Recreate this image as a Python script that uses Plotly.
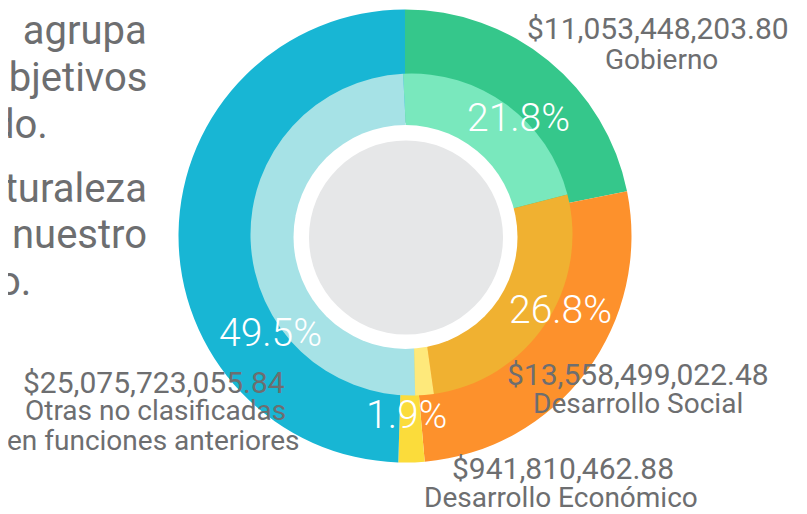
import plotly.graph_objects as go

# target screen size and the page's default body margin
SCREEN_W, SCREEN_H = 807, 514
OFF = 8
W, H = SCREEN_W - OFF, SCREEN_H - OFF

categories = ["Gobierno", "Desarrollo Social", "Desarrollo Económico",
              "Otras no clasificadas<br>en funciones anteriores"]
name_lines = [["Gobierno"], ["Desarrollo Social"], ["Desarrollo Económico"],
              ["Otras no clasificadas", "en funciones anteriores"]]
amounts = [11053448203.80, 13558499022.48, 941810462.88, 25075723055.84]

outer_colors = ["#35C78B", "#FD912C", "#FBDC3B", "#18B6D4"]
inner_colors = ["#79E8BD", "#F0B131", "#FEE97B", "#A6E2E6"]

body_lines = ["o\u00a0\u00a0agrupa", "objetivos", "do.", "aturaleza", "nuestro", "o."]

total = sum(amounts)
pct_labels = [f"{v / total * 100:.1f}%" for v in amounts]
amount_labels = [f"${v:,.2f}" for v in amounts]

FONT = "Roboto"
GREY = "#6D6E70"


def px(x):
    return (x - OFF) / W


def py(y):
    return 1 - (y - OFF) / H


def dom(cx, cy, r):
    return dict(x=[px(cx - r), px(cx + r)], y=[py(cy + r), py(cy - r)])


fig = go.Figure()
fig.add_trace(go.Pie(values=amounts, labels=categories, sort=False, direction="clockwise",
                     rotation=0, hole=0.5, domain=dom(405, 236, 226.5),
                     marker=dict(colors=outer_colors, line=dict(width=0)),
                     textinfo="none", hoverinfo="skip", showlegend=False))
fig.add_trace(go.Pie(values=amounts, labels=categories, sort=False, direction="clockwise",
                     rotation=-3, hole=0, domain=dom(411.5, 234.5, 161),
                     marker=dict(colors=inner_colors, line=dict(width=0)),
                     textinfo="none", hoverinfo="skip", showlegend=False))
fig.add_trace(go.Pie(values=[1], labels=["hole"], sort=False, domain=dom(405.5, 237, 112),
                     marker=dict(colors=["#FFFFFF"], line=dict(width=0)),
                     textinfo="none", hoverinfo="skip", showlegend=False))
fig.add_trace(go.Pie(values=[1], labels=["center"], sort=False, domain=dom(406, 237.5, 97),
                     marker=dict(colors=["#E6E7E8"], line=dict(width=0)),
                     textinfo="none", hoverinfo="skip", showlegend=False))

annotations = []


def add(text, x, y, size, color, xanchor="center", weight=400):
    annotations.append(dict(text=text, x=px(x), y=py(y), xref="paper", yref="paper",
                            xanchor=xanchor, yanchor="middle", showarrow=False,
                            font=dict(family=FONT, size=size, color=color, weight=weight)))


# percentage labels
pct_pos = [(518, 118), (560, 310), (406, 415), (270, 333)]
for t, (x, y) in zip(pct_labels, pct_pos):
    add(t, x, y, 39, "#FFFFFF", weight=300)

# amount labels
amt_pos = [(658, 29), (638, 374), (563, 468), (154, 382)]
for t, (x, y) in zip(amount_labels, amt_pos):
    add(t, x, y, 30, GREY)

# category names
name_pos = [[(661, 60)], [(638, 403)], [(561, 497)], [(155, 410), (153, 440)]]
for lines, poss in zip(name_lines, name_pos):
    for t, (x, y) in zip(lines, poss):
        add(t, x, y, 28, GREY)

# cut-off body text on the left
body_pos = [(149, 31), (149, 78), (50, 124), (149, 189), (149, 234), (33, 281)]
for t, (x, y) in zip(body_lines, body_pos):
    add(t, x, y, 40, GREY, xanchor="right")

fig.update_layout(width=W, height=H, margin=dict(l=0, r=0, t=0, b=0),
                  paper_bgcolor="#FFFFFF", plot_bgcolor="#FFFFFF",
                  annotations=annotations, showlegend=False)

fig.write_html("out.html")
